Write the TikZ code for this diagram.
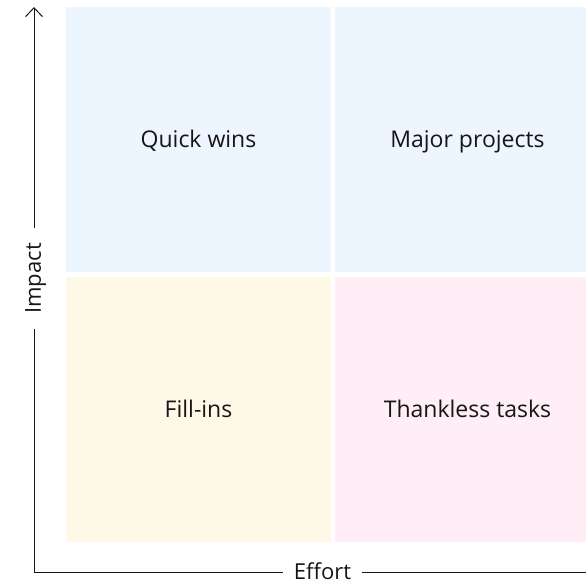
\documentclass[tikz,border=0pt]{standalone}
\usepackage{fontspec}
\setmainfont{Open Sans}
\usetikzlibrary{arrows.meta}
\definecolor{ink}{HTML}{161616}
\definecolor{quickfill}{HTML}{EDF5FF}
\definecolor{fillinfill}{HTML}{FEF8E7}
\definecolor{thanklessfill}{HTML}{FFEEF6}
\tikzset{>={Straight Barb[length=9pt,width=17pt]}}

\begin{document}
\begin{tikzpicture}[x=1pt,y=-1pt,
        quad/.style={
            minimum width=265pt,
            minimum height=265pt,
            inner sep=0pt,
            text=ink,
            font=\fontsize{23}{27}\selectfont,
            text height=16.5pt,
            text depth=0pt,
            yshift=-1pt,
        },
        axislabel/.style={
            text=ink,
            font=\fontsize{22}{26}\selectfont,
            text height=15.5pt,
            text depth=0pt,
            inner ysep=0pt,
            inner xsep=11pt,
        },
        axis/.style={draw=ink, line width=1pt},
        ]
    \useasboundingbox (0,0) rectangle (586,586);
    \clip (0,0) rectangle (586,586);
    % quadrants
    \node[quad, fill=quickfill] (quick) at (198.5,138.5) {Quick wins};
    \node[quad, fill=quickfill] (major) at (467.5,138.5) {Major projects};
    \node[quad, fill=fillinfill] (fillins) at (198.5,408.5) {Fill-ins};
    \node[quad, fill=thanklessfill] (thankless) at (467.5,408.5) {Thankless tasks};
    % axes
    \coordinate (origin) at (34,572);
    \coordinate (ytop) at (34,7);
    \coordinate (xend) at (600,572);
    \node[axislabel] (effort) at (322.5,572) {Effort};
    \node[axislabel, rotate=90, inner xsep=15pt] (impact) at (33,278.5) {Impact};
    \draw[axis, ->] (impact.east -| origin) -- (ytop);
    \draw[axis] (impact.west -| origin) -- (origin) -- (effort.west);
    \draw[axis] (effort.east) -- (xend);
\end{tikzpicture}
\end{document}
